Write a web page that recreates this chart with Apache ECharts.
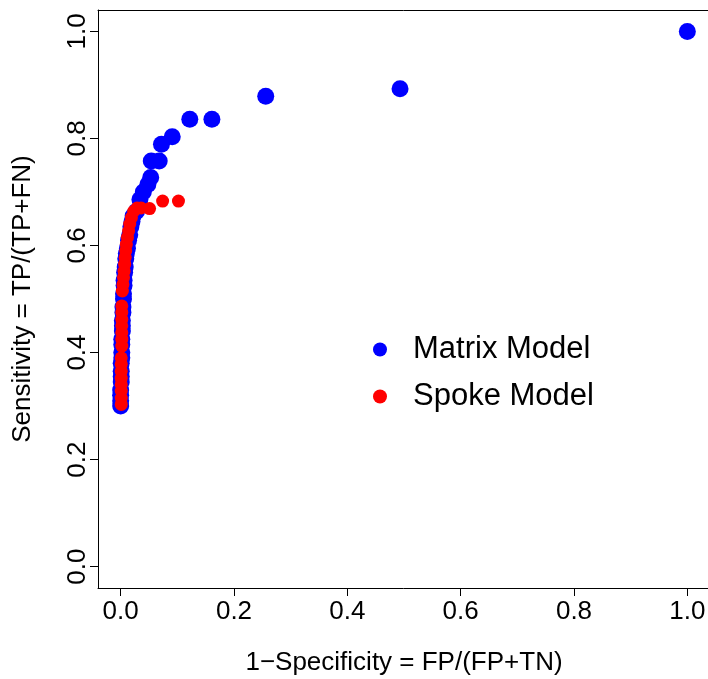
<!DOCTYPE html>
<html>
<head>
<meta charset="utf-8">
<script src="https://cdn.jsdelivr.net/npm/echarts@6/dist/echarts.min.js"></script>
<style>
  html, body { margin: 0; padding: 0; background: #fff; }
  #roc { width: 708px; height: 679px; }
</style>
</head>
<body>
<div id="roc"></div>
<script>
// ROC points: 1-specificity (x) and sensitivity (y)
var matrixX = [0.000, 0.000, 0.000, 0.000, 0.001, 0.001, 0.001, 0.001, 0.002, 0.002,
               0.002, 0.002, 0.003, 0.003, 0.003, 0.004, 0.004, 0.005, 0.005, 0.006,
               0.006, 0.007, 0.008, 0.009, 0.010, 0.012, 0.014, 0.016, 0.018, 0.020,
               0.022, 0.028, 0.034, 0.040, 0.048, 0.053, 0.054, 0.068, 0.072, 0.091,
               0.122, 0.161, 0.256, 0.493, 1.000];
var matrixY = [0.300, 0.310, 0.320, 0.330, 0.345, 0.355, 0.365, 0.380, 0.390, 0.400,
               0.415, 0.425, 0.440, 0.450, 0.460, 0.475, 0.485, 0.500, 0.510, 0.525,
               0.535, 0.550, 0.560, 0.575, 0.585, 0.595, 0.610, 0.620, 0.635, 0.645,
               0.655, 0.664, 0.686, 0.700, 0.714, 0.727, 0.758, 0.758, 0.789, 0.803,
               0.836, 0.836, 0.879, 0.893, 1.000];

var spokeX = [0.001, 0.001, 0.001, 0.001, 0.001, 0.001, 0.001, 0.001,
              0.002, 0.002, 0.002, 0.002, 0.002, 0.002, 0.002,
              0.003, 0.004, 0.005, 0.006, 0.007, 0.008, 0.009, 0.010, 0.012, 0.014,
              0.016, 0.019, 0.023, 0.029, 0.036, 0.051, 0.074, 0.102];
var spokeY = [0.303, 0.315, 0.328, 0.340, 0.352, 0.365, 0.378, 0.390,
              0.412, 0.425, 0.437, 0.450, 0.462, 0.475, 0.487,
              0.515, 0.527, 0.540, 0.552, 0.565, 0.578, 0.590, 0.602, 0.615, 0.627,
              0.640, 0.652, 0.664, 0.670, 0.670, 0.669, 0.683, 0.683];

var tickValues = [0, 0.2, 0.4, 0.6, 0.8, 1.0];

function pairs(xs, ys) {
  return xs.map(function (x, i) { return [x, ys[i]]; });
}

var font = '"Liberation Sans", Arial, Helvetica, sans-serif';

var chart = echarts.init(document.getElementById('roc'));

var option = {
  animation: false,
  backgroundColor: '#fff',
  // the plot box runs a little past the right edge, as in the original
  grid: { left: 98, top: 10, width: 612, height: 578, outerBoundsMode: 'none' },
  legend: {
    orient: 'vertical',
    left: 368, top: 329,
    itemWidth: 14, itemHeight: 14, itemGap: 16,
    icon: 'circle',
    textStyle: { fontFamily: font, fontSize: 31, color: '#000', lineHeight: 31, padding: [0, 0, 0, 21] },
    data: ['Matrix Model', 'Spoke Model']
  },
  xAxis: [
    {
      type: 'value', min: -0.04, max: 1.04,
      name: '1\u2212Specificity = FP/(FP+TN)',
      nameLocation: 'middle', nameGap: 62,
      nameTextStyle: { fontFamily: font, fontSize: 26, color: '#000' },
      splitLine: { show: false },
      axisLine: { show: true, onZero: false, lineStyle: { color: '#000', width: 1 } },
      axisTick: { show: true, length: 8, lineStyle: { color: '#000' }, customValues: tickValues },
      axisLabel: {
        fontFamily: font, fontSize: 26, color: '#000', margin: 11,
        customValues: tickValues,
        formatter: function (v) { return v.toFixed(1); }
      }
    },
    {
      // top edge of the plot box
      type: 'value', position: 'top', min: -0.04, max: 1.04,
      splitLine: { show: false },
      axisLine: { show: true, onZero: false, lineStyle: { color: '#000', width: 1 } },
      axisTick: { show: false },
      axisLabel: { show: false }
    }
  ],
  yAxis: {
    type: 'value', min: -0.04, max: 1.04,
    name: 'Sensitivity = TP/(TP+FN)',
    nameLocation: 'middle', nameGap: 62, nameRotate: 90,
    nameTextStyle: { fontFamily: font, fontSize: 26, color: '#000' },
    splitLine: { show: false },
    axisLine: { show: true, onZero: false, lineStyle: { color: '#000', width: 1 } },
    axisTick: { show: true, length: 8, lineStyle: { color: '#000' }, customValues: tickValues },
    axisLabel: {
      fontFamily: font, fontSize: 26, color: '#000', margin: 7, rotate: 90,
      customValues: tickValues,
      formatter: function (v) { return v.toFixed(1); }
    }
  },
  series: [
    {
      name: 'Matrix Model', type: 'scatter',
      symbol: 'circle', symbolSize: 17,
      itemStyle: { color: '#0000ff', opacity: 1 },
      data: pairs(matrixX, matrixY)
    },
    {
      name: 'Spoke Model', type: 'scatter',
      symbol: 'circle', symbolSize: 13,
      itemStyle: { color: '#ff0000', opacity: 1 },
      data: pairs(spokeX, spokeY)
    }
  ]
};

chart.setOption(option);
</script>
</body>
</html>
